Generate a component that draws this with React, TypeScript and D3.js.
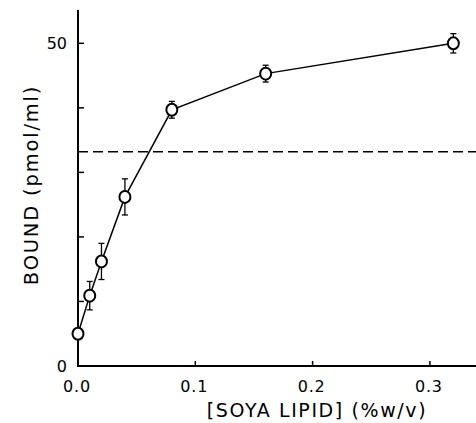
import React from "react";
import * as d3 from "d3";

const lipid = [0, 0.01, 0.02, 0.04, 0.08, 0.16, 0.32];
const bound = [5, 10.9, 16.2, 26.2, 39.7, 45.3, 50.0];
const boundErr = [0, 2.2, 2.8, 2.8, 1.3, 1.3, 1.5];
const dashedLevel = 33.2;
const xTicks = [0, 0.1, 0.2, 0.3];
const xTickLabels = ["0.0", "0.1", "0.2", "0.3"];
const yTicks = [0, 10, 20, 30, 40, 50];
const yTickLabels: Record<number, string> = { 0: "0", 50: "50" };

const W = 476;
const H = 423;

export default function App() {
  const x = d3.scaleLinear().domain([0, 0.1]).range([78, 195.3]);
  const y = d3.scaleLinear().domain([0, 50]).range([366, 43.3]);
  const xMaxPx = 476;
  const yTopPx = 10;
  const font = "'DejaVu Sans', Verdana, sans-serif";
  const line = d3
    .line<number>()
    .x((_, i) => x(lipid[i]))
    .y((d) => y(d));

  return (
    <svg
      width={W}
      height={H}
      style={{ position: "absolute", left: 0, top: 0, background: "#fff" }}
      fontFamily={font}
    >
      {/* axes */}
      <line x1={x(0)} x2={x(0)} y1={yTopPx} y2={y(0) + 1} stroke="#000" strokeWidth={2} />
      <line x1={x(0) - 1} x2={xMaxPx} y1={y(0)} y2={y(0)} stroke="#000" strokeWidth={2} />
      {yTicks.map((t) => (
        <g key={"y" + t}>
          <line x1={x(0)} x2={x(0) + 6} y1={y(t)} y2={y(t)} stroke="#000" strokeWidth={1.5} />
          {yTickLabels[t] !== undefined && (
            <text x={67} y={y(t)} dy="0.36em" textAnchor="end" fontSize={16}>
              {yTickLabels[t]}
            </text>
          )}
        </g>
      ))}
      {xTicks.map((t, i) => (
        <g key={"x" + t}>
          <line x1={x(t)} x2={x(t)} y1={y(0)} y2={y(0) - 5} stroke="#000" strokeWidth={1.5} />
          <text x={x(t) - 1} y={392} textAnchor="middle" fontSize={16} letterSpacing={0.8}>
            {xTickLabels[i]}
          </text>
        </g>
      ))}
      {/* dashed reference */}
      <line
        x1={x(0)}
        x2={xMaxPx}
        y1={y(dashedLevel)}
        y2={y(dashedLevel)}
        stroke="#000"
        strokeWidth={1.6}
        strokeDasharray="10 5"
      />
      {/* data line */}
      <path d={line(bound) || ""} fill="none" stroke="#000" strokeWidth={1.5} />
      {/* error bars */}
      {bound.map((b, i) =>
        boundErr[i] > 0 ? (
          <g key={"e" + i} stroke="#000" strokeWidth={1.3}>
            <line x1={x(lipid[i])} x2={x(lipid[i])} y1={y(b + boundErr[i])} y2={y(b - boundErr[i])} />
            <line x1={x(lipid[i]) - 3} x2={x(lipid[i]) + 3} y1={y(b + boundErr[i])} y2={y(b + boundErr[i])} />
            <line x1={x(lipid[i]) - 3} x2={x(lipid[i]) + 3} y1={y(b - boundErr[i])} y2={y(b - boundErr[i])} />
          </g>
        ) : null
      )}
      {/* points */}
      {bound.map((b, i) => (
        <ellipse
          key={"p" + i}
          cx={x(lipid[i])}
          cy={y(b)}
          rx={5.5}
          ry={6}
          fill="#fff"
          stroke="#000"
          strokeWidth={2}
        />
      ))}
      {/* axis titles */}
      <text
        transform={`translate(38,185) rotate(-90)`}
        textAnchor="middle"
        fontSize={19.5}
        letterSpacing={1.8}
      >
        BOUND (pmol/ml)
      </text>
      <text x={317} y={417} textAnchor="middle" fontSize={19} letterSpacing={1.6}>
        [SOYA LIPID] (%w/v)
      </text>
    </svg>
  );
}
